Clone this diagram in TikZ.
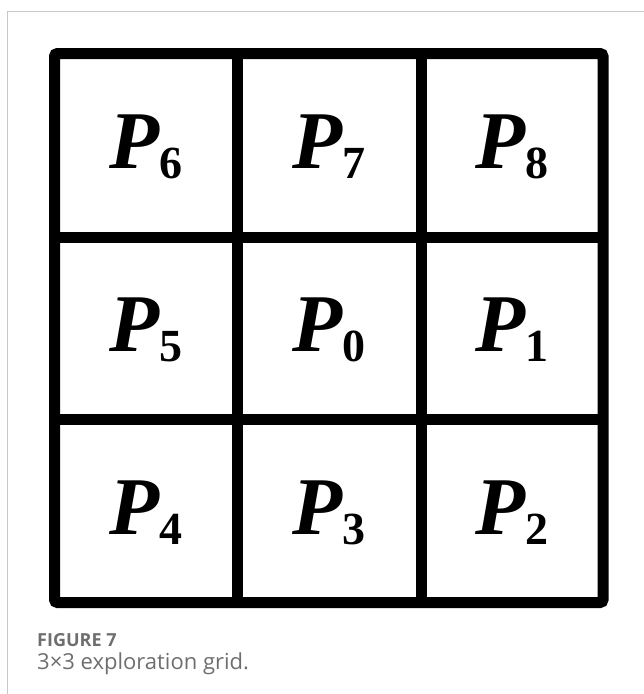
\documentclass[tikz,border=0pt]{standalone}
\usepackage{fontspec}
\setmainfont{Liberation Serif}
\newfontfamily\capfont{Open Sans}
\definecolor{capgray}{HTML}{6E6E6E}
\definecolor{framegray}{HTML}{C8C8C8}
\newcommand{\pcell}[1]{\textbf{\textit{P}}\raisebox{-10pt}{\fontsize{46}{46}\selectfont\bfseries #1}}

\begin{document}
\begin{tikzpicture}[x=1pt, y=-1pt,
			gridline/.style={line width=11pt, draw=black},
			cell/.style={inner sep=0pt, font=\fontsize{82}{82}\selectfont},
			captitle/.style={anchor=base west, inner sep=0pt, text=capgray, font=\capfont\bfseries\fontsize{18}{18}\selectfont},
			captext/.style={anchor=base west, inner sep=0pt, text=capgray, font=\capfont\fontsize{22}{22}\selectfont},
			]
			\useasboundingbox (0,0) rectangle (644,694);
			% Page frame
			\draw[framegray, line width=1pt] (7,694) -- (7,11) -- (644,11);
			
			% Grid
			\draw[gridline, rounded corners=3pt] (54.5,53.5) rectangle (603,602.5);
			\draw[gridline] (237.5,53.5) -- (237.5,602.5);
			\draw[gridline] (421,53.5) -- (421,602.5);
			\draw[gridline] (54.5,237) -- (603,237);
			\draw[gridline] (54.5,419) -- (603,419);
			
			% Cells
			\node[cell] (P6) at (146,147) {\pcell{6}};
			\node[cell] (P7) at (329,147) {\pcell{7}};
			\node[cell] (P8) at (512,147) {\pcell{8}};
			\node[cell] (P5) at (146,330) {\pcell{5}};
			\node[cell] (P0) at (329,330) {\pcell{0}};
			\node[cell] (P1) at (512,330) {\pcell{1}};
			\node[cell] (P4) at (146,513) {\pcell{4}};
			\node[cell] (P3) at (329,513) {\pcell{3}};
			\node[cell] (P2) at (512,513) {\pcell{2}};
			
			% Caption
			\node[captitle] (figno) at (37,646) {FIGURE 7};
			\node[captext] (figtext) at (37,669) {3×3 exploration grid.};
		\end{tikzpicture}
\end{document}
